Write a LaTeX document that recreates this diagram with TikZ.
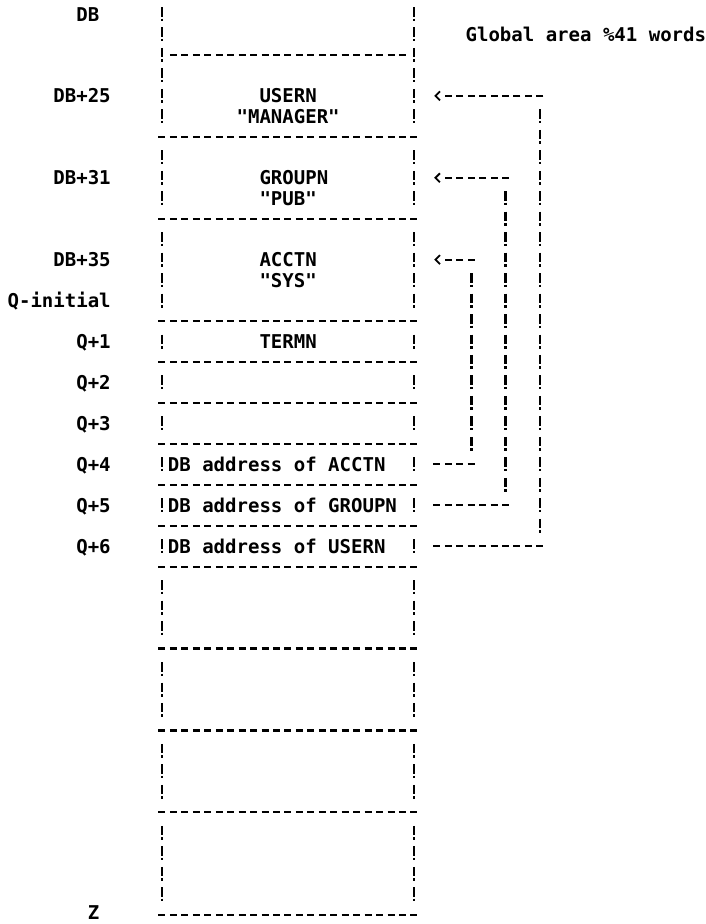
\documentclass[tikz,border=0pt]{standalone}
\usepackage{fontspec}
\newfontfamily\printfont{DejaVu Sans Mono}
\usetikzlibrary{arrows.meta}

\begin{document}
\begin{tikzpicture}[
    x=11.45pt, y=-20.47pt,
    txt/.style={font=\printfont\bfseries\fontsize{19.02pt}{20pt}\selectfont, inner sep=0pt, anchor=base west, yshift=-7pt},
    bang/.style={line width=2.7pt, dash pattern=on 9.5pt off 2pt on 2.5pt off 6.47pt},
    rule/.style={line width=2.2pt, dash pattern=on 7pt off 4.45pt},
    lead/.style={line width=2.2pt, -{Straight Barb[length=4.5pt, width=9pt, line width=1.8pt]}},
  ]
    \useasboundingbox (-162pt,14pt) rectangle (544pt,-910pt);

    % memory column
    \foreach \a/\b in {0/5, 7/9, 11/14, 16/16, 18/18, 20/20, 22/22, 24/24, 26/26, 28/30, 32/34, 36/38, 40/43} {
      \draw[bang] ([yshift=7pt]0,\a) -- ([yshift=-7pt]0,\b);
      \draw[bang] ([yshift=7pt]22,\a) -- ([yshift=-7pt]22,\b);
    }
    \draw[rule] ([xshift=-3.5pt]1,2) -- ([xshift=3.5pt]21,2);
    \foreach \r in {6, 10, 15, 17, 19, 21, 23, 25, 27, 31, 35, 39, 44}
      \draw[rule] ([xshift=-3.5pt]0,\r) -- ([xshift=3.5pt]22,\r);

    % addresses
    \node[txt] (db) at (-7.5,0) {DB};
    \node[txt] (db25) at (-9.5,4) {DB+25};
    \node[txt] (db31) at (-9.5,8) {DB+31};
    \node[txt] (db35) at (-9.5,12) {DB+35};
    \node[txt] (qinit) at (-13.5,14) {Q-initial};
    \node[txt] (q1) at (-7.5,16) {Q+1};
    \node[txt] (q2) at (-7.5,18) {Q+2};
    \node[txt] (q3) at (-7.5,20) {Q+3};
    \node[txt] (q4) at (-7.5,22) {Q+4};
    \node[txt] (q5) at (-7.5,24) {Q+5};
    \node[txt] (q6) at (-7.5,26) {Q+6};
    \node[txt, yshift=2pt] (z) at (-6.5,44) {Z};
    \node[txt] (global) at (26.5,1) {Global area \%41 words};

    % cell contents
    \node[txt] (usern) at (8.5,4) {USERN};
    \node[txt] (manager) at (6.5,5) {"MANAGER"};
    \node[txt] (groupn) at (8.5,8) {GROUPN};
    \node[txt] (pub) at (8.5,9) {"PUB"};
    \node[txt] (acctn) at (8.5,12) {ACCTN};
    \node[txt] (sys) at (8.5,13) {"SYS"};
    \node[txt] (termn) at (8.5,16) {TERMN};
    \node[txt] (adracctn) at (0.5,22) {DB address of ACCTN};
    \node[txt] (adrgroupn) at (0.5,24) {DB address of GROUPN};
    \node[txt] (adrusern) at (0.5,26) {DB address of USERN};

    % pointer to ACCTN
    \coordinate (at) at ([xshift=-3.5pt]24,22);
    \coordinate (af) at ([xshift=3.5pt]27,22);
    \coordinate (ab) at ([yshift=-7pt]27,21);
    \coordinate (au) at ([yshift=7pt]27,13);
    \coordinate (ak) at ([xshift=3.5pt]27,12);
    \coordinate (ah) at ([xshift=-2.6pt]24,12);
    \draw[rule] (at) -- (af);
    \draw[bang] (au) -- (ab);
    \draw[lead, dash pattern=on 7pt off 4.45pt on 7pt off 4.45pt on 7pt off 4.45pt on 0pt off 60pt] (ak) -- (ah);

    % pointer to GROUPN
    \coordinate (gt) at ([xshift=-3.5pt]24,24);
    \coordinate (gf) at ([xshift=3.5pt]30,24);
    \coordinate (gb) at ([yshift=-7pt]30,23);
    \coordinate (gu) at ([yshift=7pt]30,9);
    \coordinate (gk) at ([xshift=3.5pt]30,8);
    \coordinate (gh) at ([xshift=-2.6pt]24,8);
    \draw[rule] (gt) -- (gf);
    \draw[bang] (gu) -- (gb);
    \draw[lead, dash pattern=on 7pt off 4.45pt on 7pt off 4.45pt on 7pt off 4.45pt on 7pt off 4.45pt on 7pt off 4.45pt on 7pt off 4.45pt on 0pt off 60pt] (gk) -- (gh);

    % pointer to USERN
    \coordinate (ut) at ([xshift=-3.5pt]24,26);
    \coordinate (uf) at ([xshift=3.5pt]33,26);
    \coordinate (ub) at ([yshift=-7pt]33,25);
    \coordinate (uu) at ([yshift=7pt]33,5);
    \coordinate (uk) at ([xshift=3.5pt]33,4);
    \coordinate (uh) at ([xshift=-2.6pt]24,4);
    \draw[rule] (ut) -- (uf);
    \draw[bang] (uu) -- (ub);
    \draw[lead, dash pattern=on 7pt off 4.45pt on 7pt off 4.45pt on 7pt off 4.45pt on 7pt off 4.45pt on 7pt off 4.45pt on 7pt off 4.45pt on 7pt off 4.45pt on 7pt off 4.45pt on 7pt off 4.45pt on 0pt off 60pt] (uk) -- (uh);
\end{tikzpicture}
\end{document}
